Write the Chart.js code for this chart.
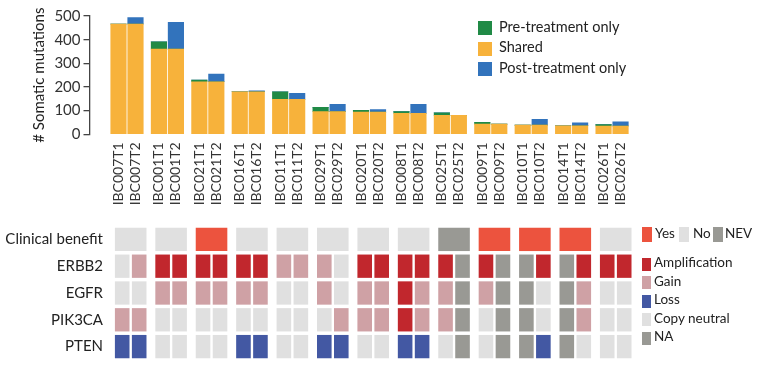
<!DOCTYPE html>
<html>
<head>
<meta charset="utf-8">
<script src="https://cdn.jsdelivr.net/npm/chart.js@4.4.0/dist/chart.umd.min.js"></script>
<style>
  body { margin: 0; background: #fff; font-family: Lato, sans-serif; }
  #wrap { position: relative; width: 761px; height: 376px; overflow: hidden; }
  #top { position: absolute; left: 0; top: 0; }
  #heat { position: absolute; left: 0; top: 210px; }
  .lg { position: absolute; color: #222; white-space: nowrap; line-height: 1; }
  .sw { position: absolute; }
</style>
</head>
<body>
<div id="wrap">
  <canvas id="top" width="761" height="210"></canvas>
  <canvas id="heat" width="761" height="166"></canvas>
</div>
<script>
// samples, two per patient (pre / post treatment)
const samples = ['IBC007T1','IBC007T2','IBC001T1','IBC001T2','IBC021T1','IBC021T2','IBC016T1','IBC016T2',
  'IBC011T1','IBC011T2','IBC029T1','IBC029T2','IBC020T1','IBC020T2','IBC008T1','IBC008T2',
  'IBC025T1','IBC025T2','IBC009T1','IBC009T2','IBC010T1','IBC010T2','IBC014T1','IBC014T2',
  'IBC026T1','IBC026T2'];

// mutation counts
const shared  = [466,466,360,360,222,222,180,180,148,148,96,96,94,94,89,89,80,80,43,43,39,39,36,36,35,35];
const preOnly = [0,0,31,0,7,0,0,0,32,0,18,0,7,0,7,0,11,0,8,0,0,0,0,0,6,0];
const postOnly = [0,27,0,113,0,33,0,4,0,25,0,31,0,11,0,38,0,0,0,0,0,24,0,13,0,18];
const yTicks = [0,100,200,300,400,500];

// heatmap rows
const rowNames = ['Clinical benefit','ERBB2','EGFR','PIK3CA','PTEN'];
const clinical = ['No','No','Yes','No','No','No','No','No','NEV','Yes','Yes','Yes','No']; // one per patient
// A = amplification, G = gain, L = loss, C = copy neutral, N = NA
const erbb2  = ['C','G','A','A','A','A','A','A','G','G','G','C','A','A','A','A','A','N','A','N','N','A','N','A','A','A'];
const egfr   = ['C','C','G','G','G','G','G','G','C','C','G','C','G','G','A','G','G','N','G','N','N','C','N','G','C','C'];
const pik3ca = ['G','G','C','C','C','C','C','C','C','C','C','G','G','G','A','G','G','N','C','N','N','C','N','G','C','C'];
const pten   = ['L','L','C','C','C','C','L','L','C','C','L','L','C','C','L','L','C','N','C','N','N','L','N','C','C','C'];

const benefitColors = { Yes: '#ec533e', No: '#e0e0e0', NEV: '#999994' };
const cnColors = { A: '#c1272d', G: '#cfa1a5', L: '#4358a3', C: '#e0e0e0', N: '#999994' };
const cnLabels = { A: 'Amplification', G: 'Gain', L: 'Loss', C: 'Copy neutral', N: 'NA' };

// x position of each sample: pairs are separated by a small gap
const pairStep = 2.38;
const xPos = samples.map((s, i) => Math.floor(i / 2) * pairStep + (i % 2));

const font = { family: 'Lato', size: 14 };
const bigFont = { family: 'Lato', size: 15 };

new Chart(document.getElementById('top'), {
  type: 'bar',
  data: {
    datasets: [
      { label: 'Shared', data: shared.map((v, i) => ({ x: xPos[i], y: v })), backgroundColor: '#f7b23b' },
      { label: 'Pre-treatment only', data: preOnly.map((v, i) => ({ x: xPos[i], y: v })), backgroundColor: '#208a46' },
      { label: 'Post-treatment only', data: postOnly.map((v, i) => ({ x: xPos[i], y: v })), backgroundColor: '#3273bc' }
    ]
  },
  options: {
    responsive: false,
    animation: false,
    barThickness: 15.5,
    layout: { padding: { top: 16, right: 116, bottom: 0, left: 0 } },
    plugins: { legend: { display: false }, tooltip: { enabled: false } },
    scales: {
      x: {
        type: 'linear', stacked: true, offset: false,
        min: -1.708, max: 31.0,
        grid: { display: false, drawTicks: false },
        border: { display: false },
        afterBuildTicks: (scale) => { scale.ticks = xPos.map(v => ({ value: v })); },
        afterFit: (scale) => { scale.height = 75.7; },
        ticks: {
          autoSkip: false, minRotation: 90, maxRotation: 90, padding: 8,
          color: '#333', font: font,
          callback: (value, index) => samples[index]
        }
      },
      y: {
        stacked: true, min: 0, max: 500,
        afterBuildTicks: (scale) => { scale.ticks = yTicks.map(v => ({ value: v })); },
        afterFit: (scale) => { scale.width = 89.5; },
        grid: { drawOnChartArea: false, tickLength: 6, color: '#444', lineWidth: 1.3 },
        border: { color: '#444', width: 1.3 },
        ticks: { padding: 3, color: '#333', font: bigFont },
        title: { display: true, text: '# Somatic mutations', color: '#222', font: bigFont, padding: { top: 30, bottom: 0 } }
      }
    }
  }
});

// heatmap: one floating-bar dataset per sample column, one bar per row
const cnRows = [erbb2, egfr, pik3ca, pten];
const half = 0.43;
const heatSets = samples.map((s, c) => {
  const x = xPos[c];
  const first = c % 2 === 0;
  const data = [first ? [x - half, x + 1 + half] : null];
  const colors = [benefitColors[clinical[Math.floor(c / 2)]]];
  cnRows.forEach(row => { data.push([x - half, x + half]); colors.push(cnColors[row[c]]); });
  return { label: s, data: data, backgroundColor: colors };
});

new Chart(document.getElementById('heat'), {
  type: 'bar',
  data: { labels: rowNames, datasets: heatSets },
  options: {
    indexAxis: 'y',
    responsive: false,
    animation: false,
    grouped: false,
    barPercentage: 0.87,
    categoryPercentage: 1,
    layout: { padding: { top: 8.3, right: 121, bottom: 7.2, left: 0 } },
    plugins: { legend: { display: false }, tooltip: { enabled: false } },
    scales: {
      x: { type: 'linear', display: false, min: -0.7185, max: 30.49, offset: false },
      y: {
        grid: { display: false, drawTicks: false },
        border: { display: false },
        afterFit: (scale) => { scale.width = 110; },
        ticks: { padding: 7, color: '#222', font: bigFont }
      }
    }
  }
});

// legends
const wrap = document.getElementById('wrap');
function addSwatch(x, y, w, h, color) {
  const d = document.createElement('div');
  d.className = 'sw';
  d.style.cssText = `left:${x}px;top:${y}px;width:${w}px;height:${h}px;background:${color}`;
  wrap.appendChild(d);
}
function addText(x, yMid, text, size) {
  const d = document.createElement('div');
  d.className = 'lg';
  d.textContent = text;
  d.style.cssText = `left:${x}px;top:${yMid - size / 2 - 1}px;font-size:${size}px`;
  wrap.appendChild(d);
}

const mutLegend = [['Pre-treatment only', '#208a46'], ['Shared', '#f7b23b'], ['Post-treatment only', '#3273bc']];
mutLegend.forEach(([t, col], i) => {
  addSwatch(478, 21 + i * 20.7, 14, 14, col);
  addText(499, 28 + i * 20.7, t, 14.5);
});

const benefitX = [[641.5, 655], [679, 693], [713, 725]];
Object.keys(benefitColors).forEach((k, i) => {
  addSwatch(benefitX[i][0], 227, 10, 15, benefitColors[k]);
  addText(benefitX[i][1], 234.5, k, 13.5);
});

Object.keys(cnLabels).forEach((k, i) => {
  addSwatch(641.5, 257.5 + i * 18.5, 9.5, 13, cnColors[k]);
  addText(654, 264 + i * 18.5, cnLabels[k], 13.5);
});
</script>
</body>
</html>
